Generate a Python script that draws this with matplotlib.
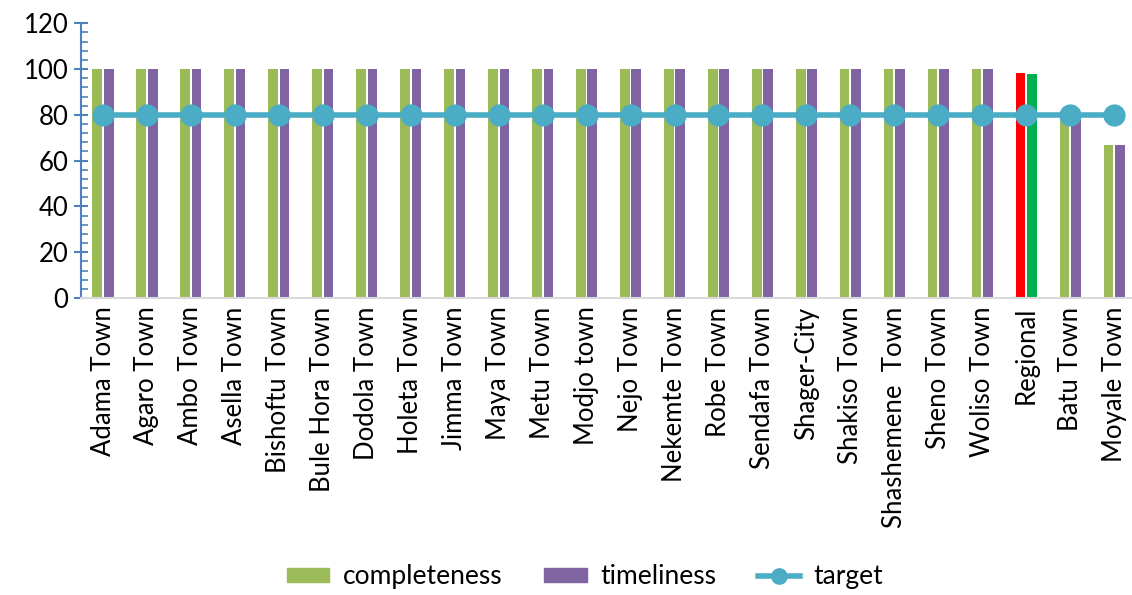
import numpy as np
import matplotlib.pyplot as plt
from matplotlib.ticker import MultipleLocator
from matplotlib.patches import Patch
from matplotlib.lines import Line2D

plt.rcParams['font.family'] = ['Lato', 'DejaVu Sans']

towns = ["Adama Town", "Agaro Town", "Ambo Town", "Asella Town", "Bishoftu Town",
         "Bule Hora Town", "Dodola Town", "Holeta Town", "Jimma Town", "Maya Town",
         "Metu Town", "Modjo town", "Nejo Town", "Nekemte Town", "Robe Town",
         "Sendafa Town", "Shager-City", "Shakiso Town", "Shashemene  Town",
         "Sheno Town", "Woliso Town", "Regional", "Batu Town", "Moyale Town"]
completeness = [100] * 21 + [98.2, 80, 66.7]
timeliness = [100] * 21 + [97.8, 80, 66.7]
target = [80] * 24

GREEN = "#9BBB59"
PURPLE = "#8064A2"
TEAL = "#4BACC6"

x = np.arange(len(towns))
c_colors = [GREEN] * len(towns)
t_colors = [PURPLE] * len(towns)
c_colors[towns.index("Regional")] = "#FF0000"
t_colors[towns.index("Regional")] = "#00B050"

fig = plt.figure(figsize=(11.32, 5.95), dpi=100)
ax = fig.add_axes([0.0716, 0.499, 0.932, 0.462])

w = 0.22
ax.bar(x - 0.13, completeness, w, color=c_colors)
ax.bar(x + 0.13, timeliness, w, color=t_colors)
ax.plot(x, target, color=TEAL, lw=4, marker="o", ms=15, zorder=3)

ax.set_xlim(-0.5, len(towns) - 0.5)
ax.set_ylim(0, 120)
ax.yaxis.set_major_locator(MultipleLocator(20))
ax.yaxis.set_minor_locator(MultipleLocator(4))
ax.tick_params(axis="y", which="major", direction="inout", length=10, width=1.5,
               color="#4F81BD", labelsize=18.5, pad=4)
ax.tick_params(axis="y", which="minor", direction="in", length=5, width=1.2,
               color="#4F81BD")
ax.set_xticks(x)
ax.set_xticklabels(towns, rotation=90, fontsize=18.5)
ax.tick_params(axis="x", length=0, pad=6)

for s in ["top", "right"]:
    ax.spines[s].set_visible(False)
ax.spines["left"].set_color("#4F81BD")
ax.spines["left"].set_linewidth(1.5)
ax.spines["bottom"].set_color("#D9D9D9")
ax.spines["bottom"].set_linewidth(1.5)

handles = [Patch(color=GREEN, label="completeness"),
           Patch(color=PURPLE, label="timeliness"),
           Line2D([], [], color=TEAL, lw=4, marker="o", ms=11, label="target")]
fig.legend(handles=handles, loc="lower center", bbox_to_anchor=(0.517, -0.03),
           ncol=3, frameon=False, fontsize=19, handlelength=1.6, handleheight=0.45,
           handletextpad=0.5, columnspacing=1.6)

fig.savefig("out.png", dpi=100)
